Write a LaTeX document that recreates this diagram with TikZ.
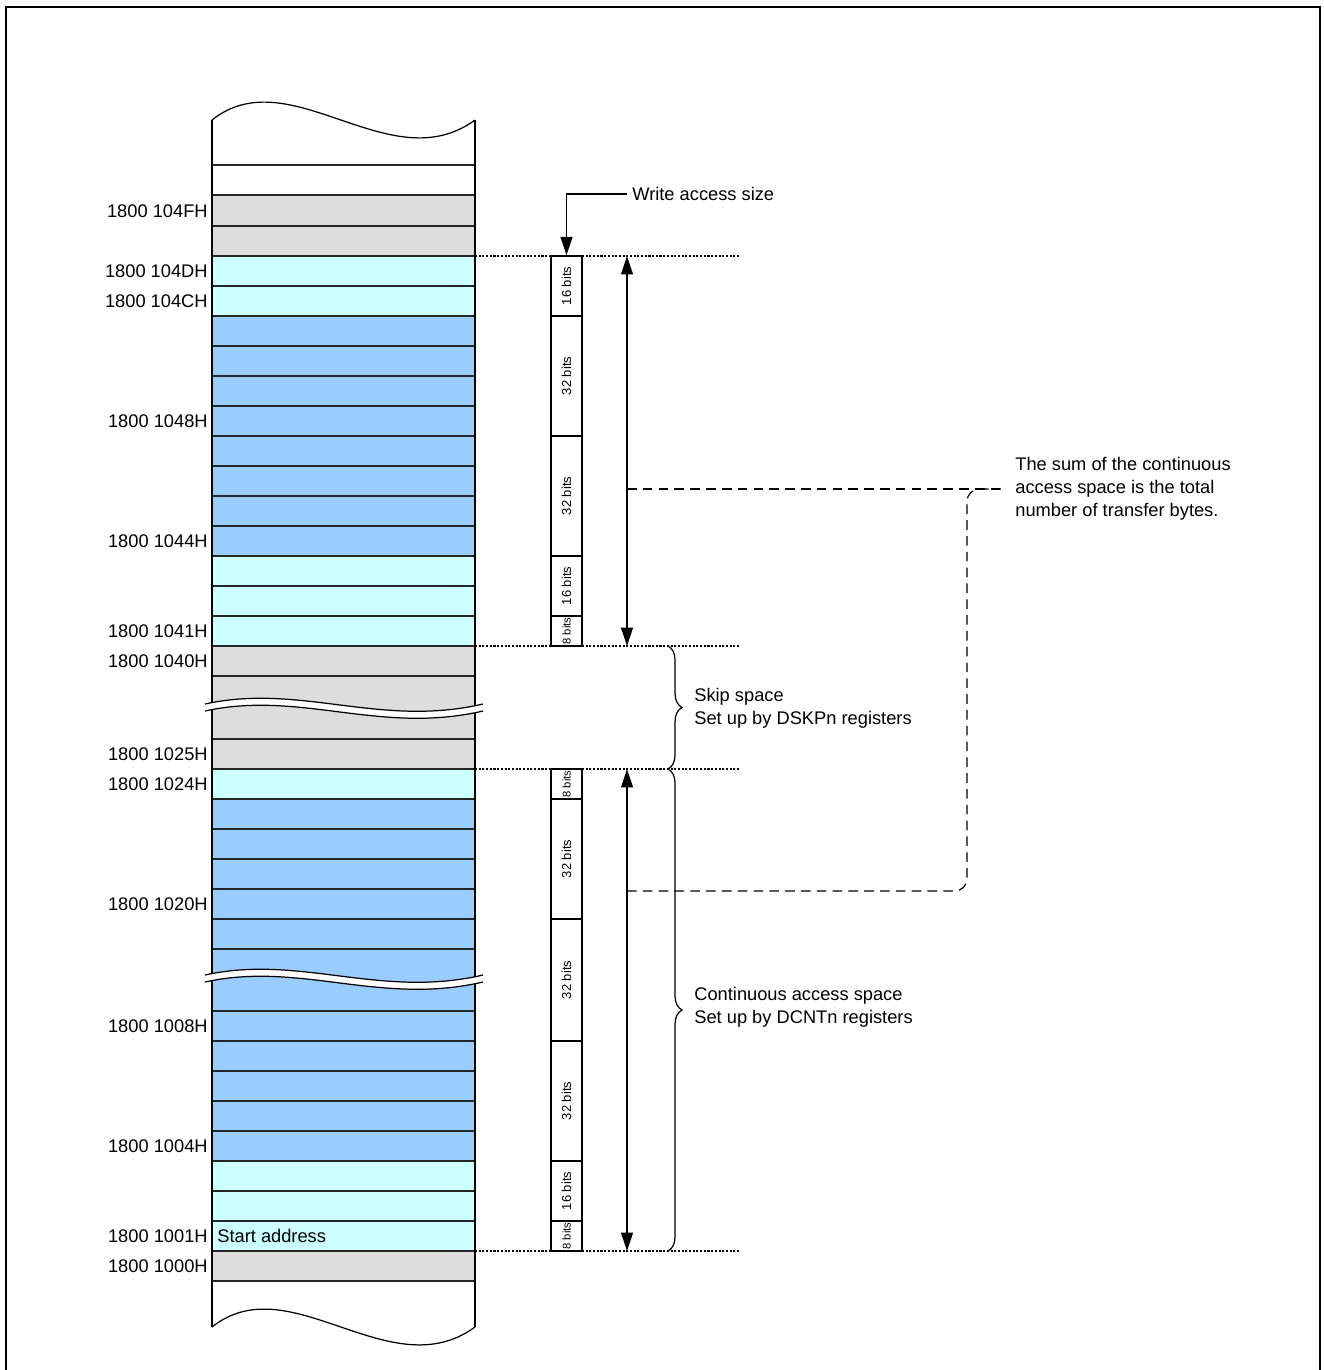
\documentclass[tikz,border=0pt]{standalone}
\usepackage{fontspec}
\setmainfont{Liberation Sans}
\usetikzlibrary{arrows.meta,decorations.pathreplacing}
\definecolor{memgray}{HTML}{DDDDDD}
\definecolor{memcyan}{HTML}{CCFFFF}
\definecolor{memblue}{HTML}{99CCFF}
\tikzset{
  rowline/.style={line width=0.75pt, draw=black!85},
  sideline/.style={line width=1.4pt},
  addr/.style={anchor=east, inner sep=0pt, font=\fontsize{10.4}{13}\selectfont},
  note/.style={anchor=west, align=left, inner sep=0pt, font=\fontsize{10.4}{13}\selectfont},
  bitbox/.style={draw, line width=0.85pt, rotate=90, inner sep=0pt, minimum height=0.62cm},
  guide/.style={line width=0.6pt, dash pattern=on 1.2pt off 0.9pt},
  span/.style={line width=0.75pt, {Triangle[length=10.5pt,width=6.8pt]}-{Triangle[length=10.5pt,width=6.8pt]}},
  tag/.style={line width=0.75pt, -{Triangle[length=10.5pt,width=6.8pt]}},
  brc/.style={line width=0.7pt, decorate, decoration={brace, amplitude=8pt}},
  sumline/.style={line width=0.7pt, dash pattern=on 5.5pt off 3.5pt},
  brk/.pic={
    \fill[white] (205,0) .. controls (300,-21) and (380,24) .. (483,0) -- (483,7) .. controls (380,31) and (300,-14) .. (205,7) -- cycle;
    \draw[line width=0.7pt] (205,0) .. controls (300,-21) and (380,24) .. (483,0);
    \draw[line width=0.7pt] (205,7) .. controls (300,-14) and (380,31) .. (483,7);
  }
}
\begin{document}
\begin{tikzpicture}[x=0.02cm,y=-0.02cm]
\useasboundingbox (0,0) rectangle (1323,1370);
\draw[line width=1.5pt] (6,1380) -- (6,7) -- (1320,7) -- (1320,1380);

% memory column
\foreach \ya/\yb/\c in {196/256/memgray, 256/316/memcyan, 316/556/memblue, 556/646/memcyan,
  646/769/memgray, 769/799/memcyan, 799/1161/memblue, 1161/1251/memcyan, 1251/1281/memgray}
  \fill[\c] (212,\ya) rectangle (475,\yb);
\foreach \y in {165,195,226,256,286,...,676} \draw[rowline] (212,\y) -- (475,\y);
\foreach \y in {739,769,...,949} \draw[rowline] (212,\y) -- (475,\y);
\foreach \y in {1011,1041,...,1281} \draw[rowline] (212,\y) -- (475,\y);
\draw[sideline] (212,120) -- (212,1327);
\draw[sideline] (475,120) -- (475,1327);
\draw[line width=0.7pt] (212,120) .. controls (290,58) and (390,182) .. (475,120);
\draw[line width=0.7pt] (212,1327) .. controls (290,1265) and (390,1389) .. (475,1327);
\pic at (0,704) {brk};
\pic at (0,975) {brk};

% addresses
\foreach \nm/\yc in {104F/211, 104D/271, 104C/301, 1048/421, 1044/541, 1041/631, 1040/661,
  1025/754, 1024/784, 1020/904, 1008/1026, 1004/1146, 1001/1236, 1000/1266}
  \node[addr] (l\nm) at (208,\yc) {1800 \nm H};
\node[note] (start) at (217,1236) {Start address};

% dotted limits
\coordinate (r1) at (475,256); \coordinate (e1) at (740,256);
\coordinate (r2) at (475,646); \coordinate (e2) at (740,646);
\coordinate (r3) at (475,769); \coordinate (e3) at (740,769);
\coordinate (r4) at (475,1251); \coordinate (e4) at (740,1251);
\foreach \i in {1,...,4} \draw[guide] (r\i) -- (e\i);

% access size boxes
\foreach \n/\yc/\h/\t/\fs in {b1/286/1.2/16/7.4, b2/376/2.4/32/7.4, b3/496/2.4/32/7.4, b4/586/1.2/16/7.4, b5/631/0.6/8/6.4,
  b6/784/0.6/8/6.4, b7/859/2.4/32/7.4, b8/980/2.44/32/7.4, b9/1101/2.4/32/7.4, b10/1191/1.2/16/7.4, b11/1236/0.6/8/6.4}
  \node[bitbox, minimum width=\h cm, font=\fontsize{\fs}{9}\selectfont] (\n) at (566.5,\yc) {\t\ bits};
\node[note] (wr) at (632,194) {Write access size};
\draw[tag] ([xshift=-3pt]wr.west) -| (b1.east);

% spans
\coordinate (s1) at (627,256); \coordinate (s2) at (627,646);
\coordinate (s3) at (627,769); \coordinate (s4) at (627,1251);
\draw[span] (s1) -- (s2);
\draw[span] (s3) -- (s4);

\coordinate (k1) at (668,646); \coordinate (k2) at (668,769); \coordinate (k3) at (668,1251);
\draw[brc] (k1) -- (k2);
\draw[brc] (k2) -- (k3);
\node[note] (skip) at (694,708) {Skip space\\Set up by DSKPn registers};
\node[note] (cont) at (694,1007) {Continuous access space\\Set up by DCNTn registers};

% sum note
\node[note] (sum) at (1015,489) {The sum of the continuous\\access space is the total\\number of transfer bytes.};
\coordinate (m1) at (627,489); \coordinate (m2) at (627,891); \coordinate (c3) at (967,489);
\draw[sumline] (m1) -- ([xshift=-8pt]sum.west);
\draw[sumline, rounded corners=7pt] (m2) -| (c3) -- ([xshift=-8pt]sum.west);
\end{tikzpicture}
\end{document}
